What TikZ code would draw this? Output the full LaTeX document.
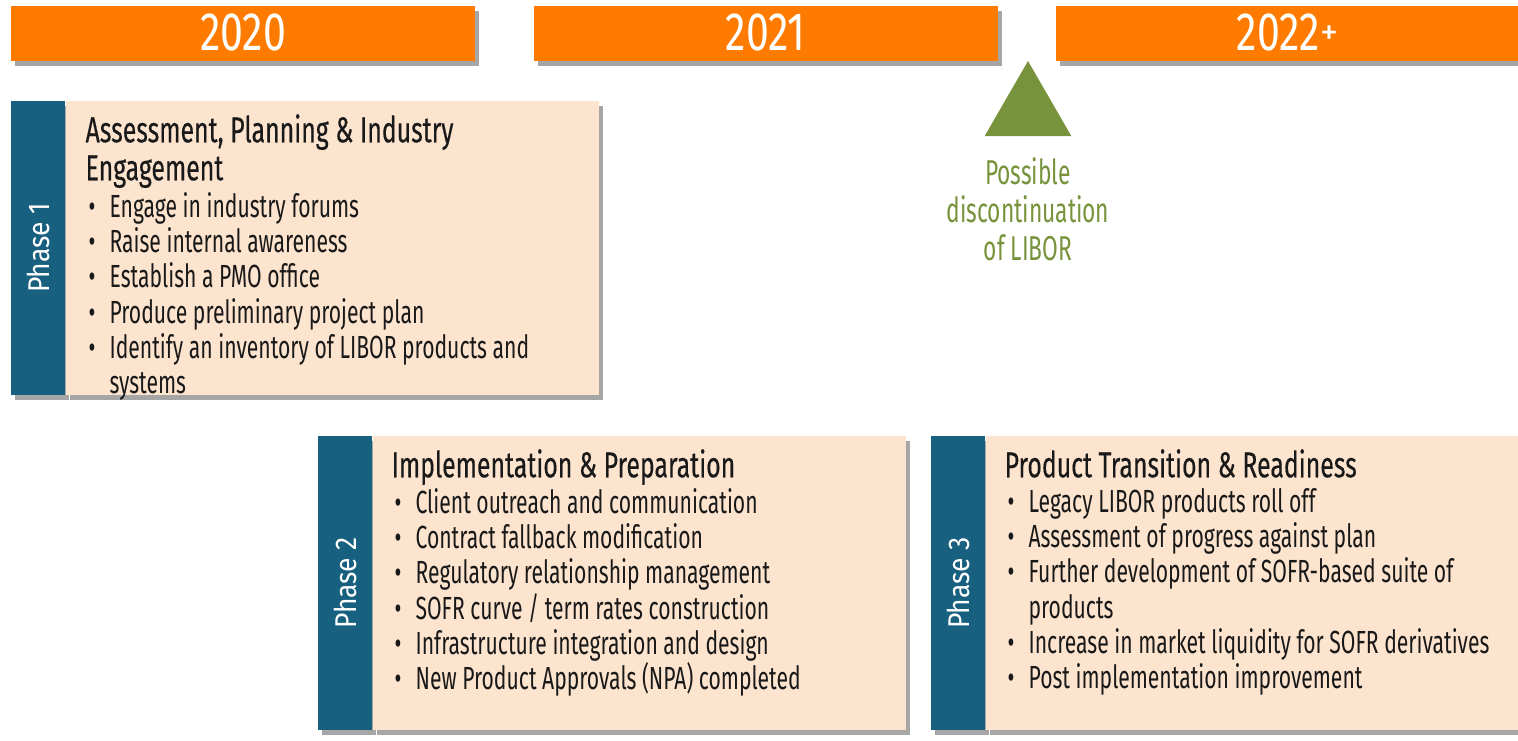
\documentclass[tikz,border=0pt]{standalone}
\usepackage{fontspec}
\setmainfont{Fira Sans}[FakeStretch=0.66]
\newfontfamily\headfont{Fira Sans}[FakeStretch=0.69,FakeBold=0.3]
\newfontfamily\yearfont{Fira Sans}[FakeStretch=0.76]
\newfontfamily\tabfont{Fira Sans}[FakeStretch=0.88]
\newfontfamily\plainfont{Fira Sans}
\usetikzlibrary{
positioning,
shapes.geometric,
shadows
}
\definecolor{yearorange}{RGB}{255,123,0}
\definecolor{phaseteal}{RGB}{23,96,127}
\definecolor{phasepeach}{RGB}{253,228,206}
\definecolor{markgreen}{RGB}{119,147,60}
\definecolor{inkblack}{RGB}{25,25,25}
\newcommand\itembul{\makebox[13pt][c]{\textbullet}\hspace{11pt}}
\newcommand\itemcont{\hspace*{24pt}}

\begin{document}
\begin{tikzpicture}[
    x=1pt, y=-1pt,
    every node/.style={inner sep=0pt},
    boxshadow/.style={drop shadow={shadow xshift=4pt, shadow yshift=-5pt, opacity=0.35, fill=black}},
    yearbar/.style={fill=yearorange, text=white, anchor=north west,
      minimum width=464pt, minimum height=55pt, text depth=4pt,
      font=\yearfont\fontsize{54}{54}\selectfont, boxshadow},
    phasetab/.style={fill=phaseteal, anchor=north west,
      minimum width=54pt, minimum height=294pt, boxshadow},
    phasebox/.style={fill=phasepeach, minimum width=533pt, minimum height=294pt, boxshadow},
    phaselabel/.style={text=white, rotate=90, font=\tabfont\fontsize{30}{30}\selectfont},
    ttl/.style={align=left, text=inkblack, font=\headfont\fontsize{36}{38}\selectfont},
    items/.style={align=left, text=inkblack, font=\fontsize{32}{35.3}\selectfont},
    marker/.style={regular polygon, regular polygon sides=3, minimum size=100pt, fill=markgreen},
    note/.style={align=center, text=markgreen, font=\fontsize{34.5}{38}\selectfont}]
  \useasboundingbox (0,0) rectangle (1518,740);
  % year bars
  \node[yearbar] (y20) at (11,6) {2020};
  \node[yearbar, right=58pt of y20] (y21) {2021};
  \node[yearbar, right=58pt of y21, minimum width=463pt] (y22) {2022\raisebox{6pt}{\plainfont\fontsize{36}{36}\selectfont +}};
  % LIBOR marker
  \node[marker] (m) at (1028,111) {};
  \node[note, below=21pt of m.south] (mt) {Possible\\discontinuation\\of LIBOR};
  % phase 1
  \node[phasetab] (s1) at (11,101) {};
  \node[phasebox, right=0pt of s1] (p1) {};
  \node[phaselabel] (s1l) at (s1.center) {Phase 1};
  \node[ttl, below right=13pt and 20pt of p1.north west] (t1) {Assessment, Planning \& Industry\\Engagement};
  \node[items, below right=91pt and 20pt of p1.north west] (l1) {\itembul Engage in industry forums\\
    \itembul Raise internal awareness\\
    \itembul Establish a PMO office\\
    \itembul Produce preliminary project plan\\
    \itembul Identify an inventory of LIBOR products and\\
    \itemcont systems};
  % phase 2
  \node[phasetab] (s2) at (318,436) {};
  \node[phasebox, right=0pt of s2] (p2) {};
  \node[phaselabel] (s2l) at (s2.center) {Phase 2};
  \node[ttl, below right=13pt and 19pt of p2.north west] (t2) {Implementation \& Preparation};
  \node[items, below right=52pt and 19pt of p2.north west] (l2) {\itembul Client outreach and communication\\
    \itembul Contract fallback modification\\
    \itembul Regulatory relationship management\\
    \itembul SOFR curve / term rates construction\\
    \itembul Infrastructure integration and design\\
    \itembul New Product Approvals (NPA) completed};
  % phase 3
  \node[phasetab] (s3) at (931,436) {};
  \node[phasebox, right=0pt of s3] (p3) {};
  \node[phaselabel] (s3l) at (s3.center) {Phase 3};
  \node[ttl, below right=13pt and 19pt of p3.north west] (t3) {Product Transition \& Readiness};
  \node[items, below right=52pt and 19pt of p3.north west] (l3) {\itembul Legacy LIBOR products roll off\\
    \itembul Assessment of progress against plan\\
    \itembul Further development of SOFR-based suite of\\
    \itemcont products\\
    \itembul Increase in market liquidity for SOFR derivatives\\
    \itembul Post implementation improvement};
\end{tikzpicture}
\end{document}
